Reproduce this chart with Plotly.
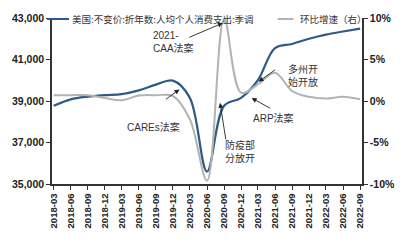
import plotly.graph_objects as go

quarters = ["2018-03", "2018-06", "2018-09", "2018-12", "2019-03", "2019-06", "2019-09",
            "2019-12", "2020-03", "2020-06", "2020-09", "2020-12", "2021-03", "2021-06",
            "2021-09", "2021-12", "2022-03", "2022-06", "2022-09"]
pce_per_capita = [38770, 39080, 39210, 39280, 39330, 39510, 39790, 39980, 39150, 35600,
                  38770, 39150, 40000, 41550, 41750, 42000, 42200, 42350, 42490]
qoq_growth = [0.7, 0.7, 0.7, 0.35, 0.1, 0.65, 0.7, 0.6, -2.2, -9.6,
              9.9, 1.0, 2.0, 3.4, 1.2, 0.5, 0.3, 0.5, 0.2]
left_ticks = [35000, 37000, 39000, 41000, 43000]
left_ticktext = ["35,000", "37,000", "39,000", "41,000", "43,000"]
right_ticks = [-10, -5, 0, 5, 10]
right_ticktext = ["-10%", "-5%", "0%", "5%", "10%"]
name_left = "美国:不变价:折年数:人均个人消费支出:季调"
name_right = "环比增速（右）"

dates = [q + "-01" for q in quarters]

BLUE = "#2e5a87"
GRAY = "#b3b3b3"
AX = "#333333"
CJK = "Noto Sans CJK SC"
NUM = "Liberation Sans, Arial"

fig = go.Figure()
fig.add_trace(go.Scatter(x=dates, y=qoq_growth, yaxis="y2", mode="lines",
                         line=dict(color=GRAY, width=2, shape="spline", smoothing=1.0),
                         name=name_right, showlegend=False))
fig.add_trace(go.Scatter(x=dates, y=pce_per_capita, mode="lines",
                         line=dict(color=BLUE, width=2.2, shape="spline", smoothing=1.0),
                         name=name_left, showlegend=False))

fig.update_layout(
    width=407, height=240,
    margin=dict(l=50, r=45, t=14, b=54),
    paper_bgcolor="white", plot_bgcolor="white",
    xaxis=dict(type="date", range=["2018-02-20", "2022-09-11"],
               tickvals=dates, ticktext=quarters, tickangle=-90,
               showgrid=False, zeroline=False, showline=True, linecolor=AX, linewidth=1.5,
               ticks="outside", ticklen=4, tickcolor=AX, tickwidth=1,
               tickfont=dict(family=NUM, size=9.5, color="#222", weight="bold")),
    yaxis=dict(range=[35000, 43000], tickvals=left_ticks, ticktext=left_ticktext,
               showgrid=False, zeroline=False, showline=True, linecolor=AX, linewidth=1.5,
               ticks="outside", ticklen=4, tickcolor=AX,
               tickfont=dict(family=NUM, size=10.5, color="#222", weight="bold")),
    yaxis2=dict(range=[-10, 10], tickvals=right_ticks, ticktext=right_ticktext,
                overlaying="y", side="right",
                showgrid=False, zeroline=False, showline=True, linecolor=AX, linewidth=1.5,
                ticks="outside", ticklen=4, tickcolor=AX,
                tickfont=dict(family=NUM, size=10.5, color="#222", weight="bold")),
)

# legend (custom)
fig.add_shape(type="line", xref="paper", yref="paper", x0=-0.016, x1=0.055, y0=0.994, y1=0.994,
              line=dict(color=BLUE, width=2))
fig.add_shape(type="line", xref="paper", yref="paper", x0=0.728, x1=0.779, y0=0.994, y1=0.994,
              line=dict(color=GRAY, width=2))
legend_font = dict(family=CJK, size=9.5, color="#333")
fig.add_annotation(xref="paper", yref="paper", x=0.058, y=0.994, xanchor="left", yanchor="middle",
                   text=name_left, showarrow=False, font=legend_font)
fig.add_annotation(xref="paper", yref="paper", x=0.792, y=0.994, xanchor="left", yanchor="middle",
                   text=name_right, showarrow=False, font=legend_font)

# text annotations
ann_font = dict(family="Liberation Sans, " + CJK, size=10, color="#333")
texts = [
    (0.3205, 0.858, "2021-<br>CAA法案"),
    (0.234, 0.343, "CAREs法案"),
    (0.551, 0.195, "防疫部<br>分放开"),
    (0.641, 0.395, "ARP法案"),
    (0.756, 0.651, "多州开<br>始开放"),
]
for x, y, t in texts:
    fig.add_annotation(xref="paper", yref="paper", x=x, y=y, xanchor="left", yanchor="middle",
                       text=t, showarrow=False, align="left", font=ann_font)

# arrows (tip in data coords, tail in pixel offsets)
arrow = dict(showarrow=True, arrowhead=2, arrowsize=1.1, arrowwidth=0.9, arrowcolor="#222", text="")
fig.add_annotation(x="2020-08-25", y=9.4, yref="y2", ax=-35, ay=15, **arrow)
fig.add_annotation(x="2020-01-05", y=39560, ax=-15, ay=11, **arrow)
fig.add_annotation(x="2020-08-10", y=38910, ax=6, ay=38, **arrow)
fig.add_annotation(x="2021-01-27", y=39140, ax=20, ay=11, **arrow)
fig.add_annotation(x="2021-03-05", y=39930, ax=18, ay=-13, **arrow)

fig.write_html("out.html")
